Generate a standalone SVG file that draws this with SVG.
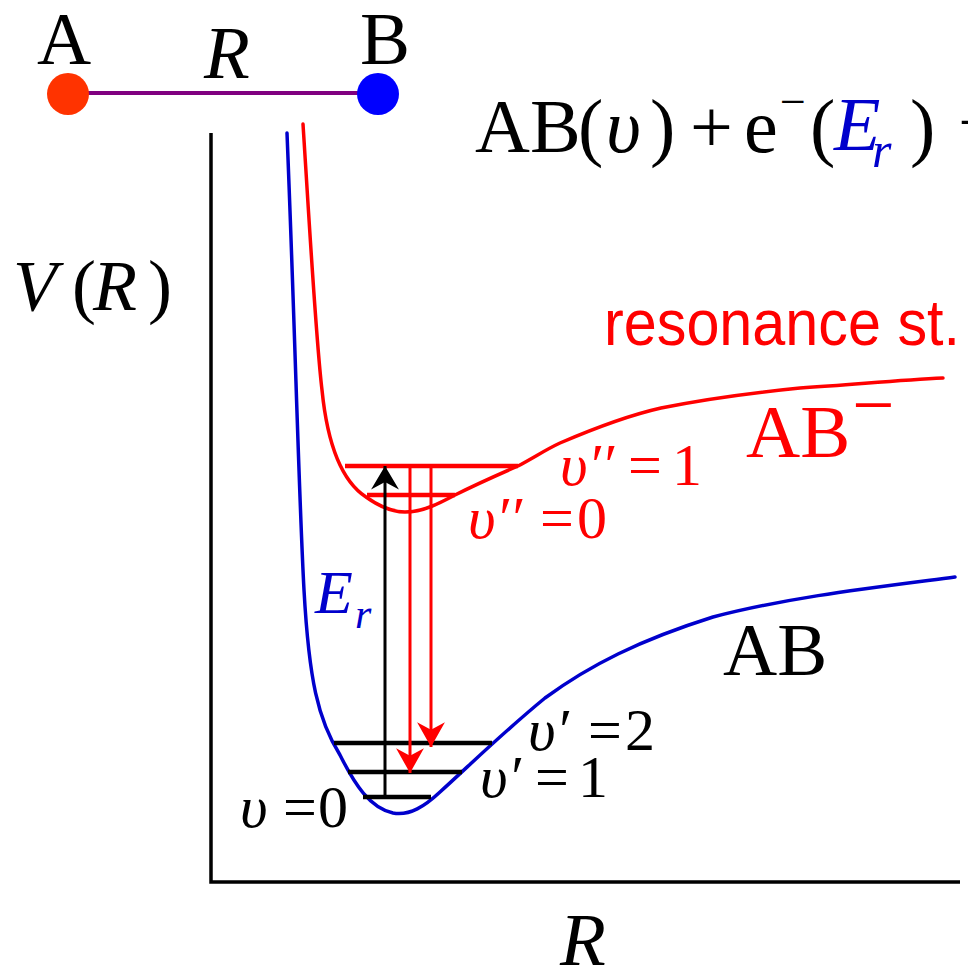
<svg xmlns="http://www.w3.org/2000/svg" width="968" height="969" viewBox="0 0 968 969">
<style>
.serif{font-family:"Liberation Serif","Times New Roman",serif;}
.it{font-style:italic;}
.sans{font-family:"Liberation Sans",Arial,sans-serif;}
.k{fill:#000;}
.r{fill:#ff0000;}
.b{fill:#0000cc;}
.curve{fill:none;stroke-width:3.5;stroke-linecap:round;}
.lvl{stroke-width:4.5;fill:none;}
.tr{stroke-width:3;fill:none;}
</style>
<defs>
<marker id="hk" markerUnits="userSpaceOnUse" markerWidth="30" markerHeight="30" viewBox="-24 -14 26 28" refX="0" refY="0" orient="auto">
<path d="M0,0 L-22,-13 L-15,0 L-22,13 Z" fill="#000"/>
</marker>
<marker id="hr" markerUnits="userSpaceOnUse" markerWidth="30" markerHeight="30" viewBox="-24 -14 26 28" refX="0" refY="0" orient="auto">
<path d="M0,0 L-23,-13 L-16,0 L-23,13 Z" fill="#ff0000"/>
</marker>
</defs>
<rect width="968" height="969" fill="#fff"/>

<g id="molecule">
<line x1="68" y1="93" x2="378" y2="93" stroke="#800080" stroke-width="4"/>
<g id="atomA"><circle cx="68" cy="94" r="21" fill="#ff3300"/><text class="serif k" x="37" y="64" font-size="75">A</text></g>
<g id="atomB"><circle cx="378" cy="94" r="21" fill="#0000ff"/><text class="serif k" x="360" y="64" font-size="75">B</text></g>
<text class="serif it k" x="204" y="78" font-size="75">R</text>
</g>

<g id="formula" class="serif" font-size="76">
<text class="k" y="152"><tspan x="475">AB</tspan><tspan x="578">(</tspan><tspan x="606" class="it">υ</tspan><tspan x="650">)</tspan><tspan x="690">+</tspan><tspan x="744">e</tspan><tspan x="780" y="117" font-size="46">−</tspan><tspan x="810" y="152">(</tspan><tspan x="834" y="150" class="it b">E</tspan><tspan x="872" y="167" font-size="50" class="it b">r</tspan><tspan x="910" y="152">)</tspan><tspan x="946" y="135">→</tspan></text>
</g>

<g id="axes" stroke="#000" stroke-width="3.5" fill="none">
<path d="M211,133 L211,882 L960,882"/>
</g>
<text id="ylabel" class="serif k" y="310" font-size="72"><tspan x="13" class="it">V</tspan><tspan x="72">(</tspan><tspan x="93" class="it">R</tspan><tspan x="148">)</tspan></text>
<text id="xlabel" class="serif it k" x="560" y="965" font-size="75">R</text>

<g id="curveAB">
<path class="curve" stroke="#0000cc" d="M287,133 C295,330 299,500 304,590 C309,680 318,720 340,755 C355,785 370,808 393,813 C410,816 425,806 440,792 C470,765 500,735 545,698 C590,665 640,640 713,617 C790,597 870,588 955,577"/>
<text class="serif k" x="723" y="675" font-size="75">AB</text>
</g>

<g id="curveABminus">
<path class="curve" stroke="#ff0000" d="M303,124 C311,250 316,340 322,390 C327,440 340,480 366,497 C380,507 393,512 405,512 C423,512 440,503 455,495 C475,485 495,476 518,466 C535,457 545,450 560,443 C595,428 630,415 661,408 C700,400 740,394 800,388 C860,384 900,380 943,378"/>
<text class="serif r" y="457" font-size="75"><tspan x="746">AB</tspan><tspan x="852" dy="-27">−</tspan></text>
<text class="sans r" x="604" y="345" font-size="64" textLength="356" lengthAdjust="spacingAndGlyphs">resonance st.</text>
</g>

<g id="levelsAB" stroke="#000">
<line class="lvl" x1="334" y1="743" x2="492" y2="743"/>
<line class="lvl" x1="348" y1="772" x2="462" y2="772"/>
<line class="lvl" x1="363" y1="797" x2="431" y2="797"/>
</g>
<g id="levelsABminus" stroke="#ff0000">
<line class="lvl" x1="345" y1="466" x2="518" y2="466"/>
<line class="lvl" x1="367" y1="495" x2="455" y2="495"/>
</g>

<g id="connectors">
<line class="tr" stroke="#000" x1="385" y1="797" x2="385" y2="466" marker-end="url(#hk)"/>
<line class="tr" stroke="#ff0000" x1="410" y1="466" x2="410" y2="773" marker-end="url(#hr)"/>
<line class="tr" stroke="#ff0000" x1="431" y1="466" x2="431" y2="747" marker-end="url(#hr)"/>
</g>

<g id="levelLabels" class="serif" font-size="60">
<text class="k" y="827"><tspan x="240" class="it">υ</tspan><tspan x="283">=</tspan><tspan x="318">0</tspan></text>
<text class="k" y="797"><tspan x="480" class="it">υ</tspan><tspan class="it">′</tspan><tspan x="535">=</tspan><tspan x="578">1</tspan></text>
<text class="k" y="750"><tspan x="528" class="it">υ</tspan><tspan class="it">′</tspan><tspan x="588">=</tspan><tspan x="625">2</tspan></text>
<text class="r" y="538"><tspan x="468" class="it">υ</tspan><tspan class="it">′′</tspan><tspan x="540">=</tspan><tspan x="577">0</tspan></text>
<text class="r" y="485"><tspan x="560" class="it">υ</tspan><tspan class="it">′′</tspan><tspan x="628">=</tspan><tspan x="672">1</tspan></text>
</g>
<text id="Er" class="serif it b" font-size="62"><tspan x="315" y="613">E</tspan><tspan x="355" y="628" font-size="42">r</tspan></text>
</svg>
